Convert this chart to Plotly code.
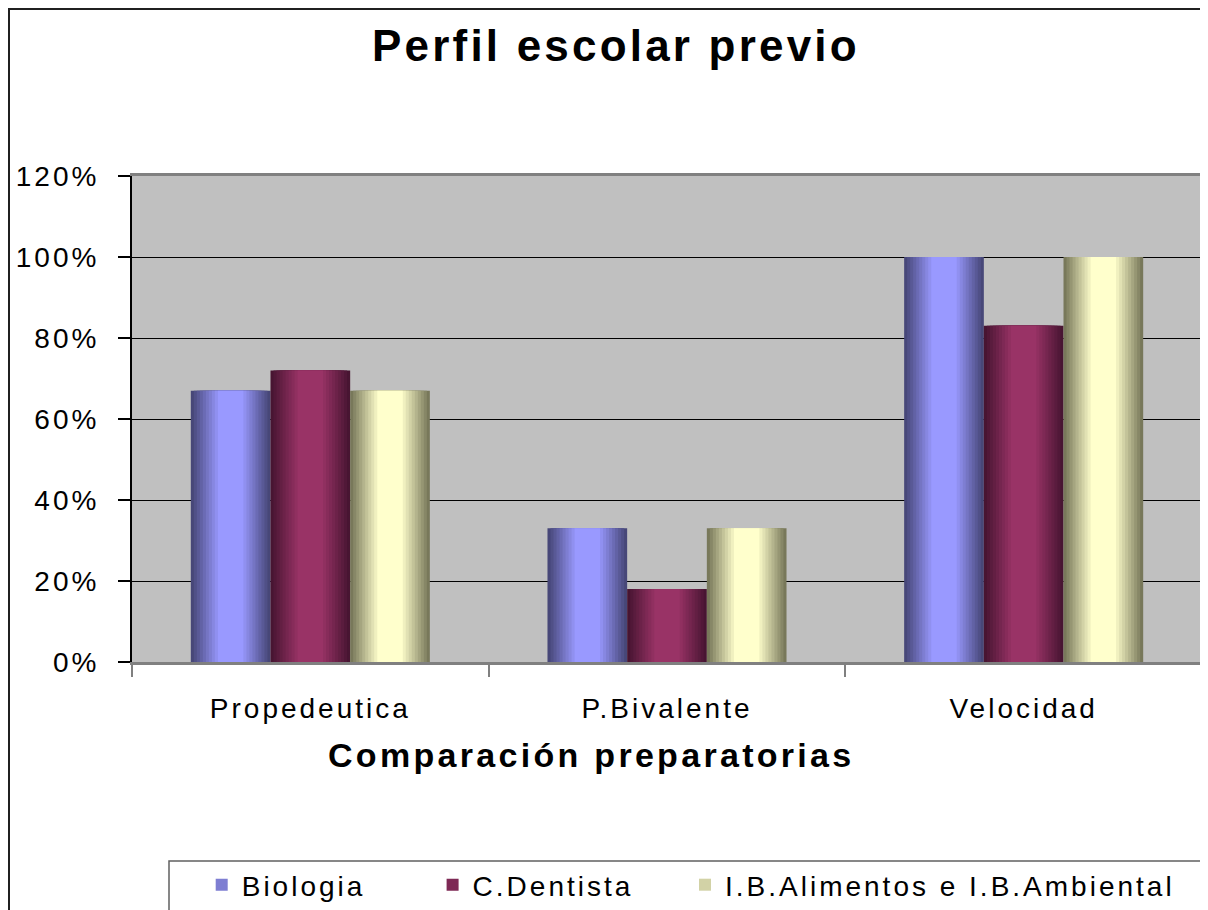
import plotly.graph_objects as go

# ---------------- data ----------------
categories = ["Propedeutica", "P.Bivalente", "Velocidad"]
biologia = [67, 33, 100]
dentista = [72, 18, 83]
alimentos = [67, 33, 100]
series_names = ["Biologia", "C.Dentista", "I.B.Alimentos e I.B.Ambiental"]
y_ticks = [0, 20, 40, 60, 80, 100, 120]
chart_title = "Perfil escolar previo"
x_title = "Comparación preparatorias"

# ---------------- styling ----------------
FONT = "Liberation Sans, Arial, sans-serif"
OFF = 8  # default body margin of the html page
W, H = 1208 - OFF, 910 - OFF
# plot area in page pixels
PLOT_L, PLOT_R, PLOT_T, PLOT_B = 132, 1202, 176, 662
PW, PH = PLOT_R - PLOT_L, PLOT_B - PLOT_T


def px_x(px):  # page px -> paper
    return (px - PLOT_L) / PW


def px_y(py):
    return (PLOT_B - py) / PH


def ls(text, sp=3):
    return f'<span style="letter-spacing:{sp}px">{text}</span>'


def mix(c1, c2, t):
    return "#%02x%02x%02x" % tuple(round(a + (b - a) * t) for a, b in zip(c1, c2))


series_vals = [biologia, dentista, alimentos]
edge_cols = [(71, 71, 120), (72, 21, 50), (120, 120, 90)]
center_cols = [(153, 153, 255), (153, 51, 102), (255, 255, 204)]
legend_ids = ["legend", "legend2", "legend3"]

bar_w = 0.2234
centers = [-bar_w, 0.0, bar_w]
N = 10
LEG_K = 6

fig = go.Figure()
for s in range(3):
    for k in range(N):
        t = k / (N - 1)
        w = bar_w * (1 - 0.68 * t)
        col = mix(edge_cols[s], center_cols[s], t)
        fig.add_trace(go.Bar(
            x=categories, y=series_vals[s],
            width=w, offset=centers[s] - w / 2,
            marker=dict(color=col, line=dict(width=0)),
            name=ls(series_names[s]),
            legendgroup=series_names[s],
            legend=legend_ids[s],
            showlegend=(k == LEG_K),
            hovertemplate=f"{series_names[s]}<br>%{{x}}: %{{y}}%<extra></extra>",
        ))

legend_text_x = [246.7, 477.6, 730]
legend_cy = 885
legend_common = dict(
    yanchor="middle", xanchor="left",
    bgcolor="rgba(0,0,0,0)", borderwidth=0,
    font=dict(family=FONT, size=28, color="black"),
    orientation="h",
)
layout_legends = {}
for i, lid in enumerate(legend_ids):
    layout_legends[lid] = dict(x=px_x(legend_text_x[i] - 45), y=px_y(legend_cy), **legend_common)

fig.update_layout(
    width=W, height=H,
    margin=dict(l=PLOT_L - OFF, r=W - (PLOT_R - OFF), t=PLOT_T - OFF, b=H - (PLOT_B - OFF),
                pad=0, autoexpand=False),
    barmode="overlay",
    paper_bgcolor="white",
    plot_bgcolor="#c0c0c0",
    font=dict(family=FONT, size=28, color="black"),
    **layout_legends,
    xaxis=dict(
        type="category",
        tickmode="array", tickvals=categories, ticktext=[ls(c) for c in categories],
        tickson="boundaries", ticks="outside", ticklen=12, tickwidth=2, tickcolor="#808080",
        showline=True, linecolor="#808080", linewidth=3, mirror=True,
        showgrid=False, zeroline=False,
        tickfont=dict(family=FONT, size=28, color="black"),
        ticklabelstandoff=19,
        range=[-0.5, 2.5],
        fixedrange=True,
    ),
    yaxis=dict(
        range=[0, 120],
        tickmode="array", tickvals=y_ticks, ticktext=[ls(f"{v}%") for v in y_ticks],
        ticks="outside", ticklen=12, tickwidth=1.5, tickcolor="black",
        showline=True, linecolor="black", linewidth=2,
        showgrid=True, gridcolor="black", gridwidth=1,
        zeroline=False,
        tickfont=dict(family=FONT, size=28, color="black"),
        ticklabelstandoff=13,
        fixedrange=True,
    ),
    annotations=[
        dict(text=ls(chart_title, 3.2), xref="paper", yref="paper",
             x=px_x(615.5), y=px_y(45.5), xanchor="center", yanchor="middle",
             showarrow=False, font=dict(family=FONT, size=44, color="black", weight="bold")),
        dict(text=ls(x_title, 3.3), xref="paper", yref="paper",
             x=px_x(591), y=px_y(755), xanchor="center", yanchor="middle",
             showarrow=False, font=dict(family=FONT, size=34, color="black", weight="bold")),
    ],
    shapes=[
        # chart border
        dict(type="rect", xref="paper", yref="paper",
             x0=px_x(OFF + 1), x1=px_x(1202), y0=px_y(920), y1=px_y(OFF + 1),
             line=dict(color="#202020", width=2), fillcolor="rgba(0,0,0,0)", layer="above"),
        # legend box
        dict(type="rect", xref="paper", yref="paper",
             x0=px_x(169), x1=px_x(1215), y0=px_y(920), y1=px_y(861),
             line=dict(color="#606060", width=1.5), fillcolor="rgba(0,0,0,0)", layer="above"),
    ],
)

fig.write_html("out.html")
